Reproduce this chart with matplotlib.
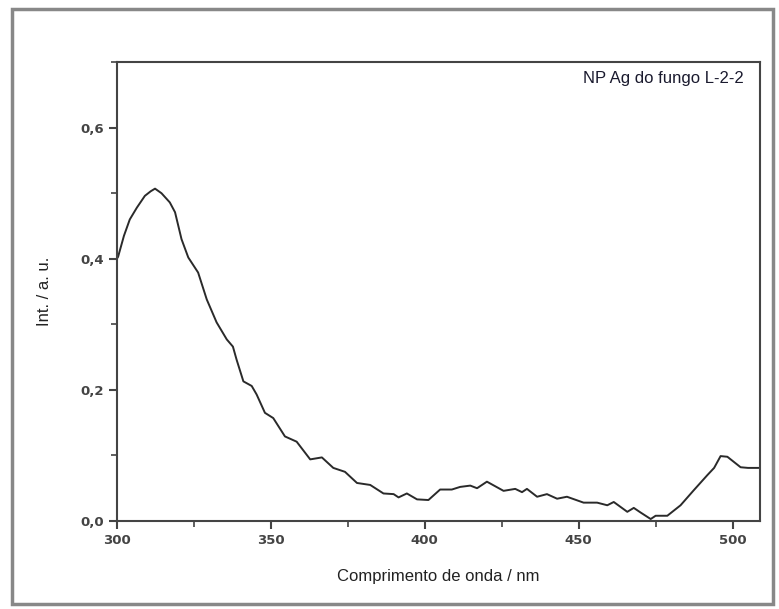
import numpy as np
import matplotlib.pyplot as plt
from matplotlib.ticker import MultipleLocator, FuncFormatter
from matplotlib.patches import Rectangle

# Wavelength (nm) and intensity
wavelength = [300.0, 300.4, 302.3, 304.2, 306.5, 309.1, 311.0, 312.4, 314.5, 317.2,
              318.9, 321.0, 323.2, 326.4, 329.2, 332.4, 335.7, 337.7, 338.9, 341.1,
              343.8, 345.4, 348.1, 350.8, 354.6, 358.4, 362.8, 366.6, 370.3, 374.1,
              378.0, 382.3, 386.6, 389.9, 391.5, 394.2, 397.5, 401.2, 405.0, 408.8,
              411.5, 414.8, 417.0, 420.2, 425.6, 429.4, 431.6, 433.2, 436.5, 439.7,
              443.0, 446.2, 451.6, 456.0, 459.3, 461.4, 465.8, 467.9, 470.1, 473.4,
              475.0, 478.8, 483.1, 487.4, 491.8, 494.0, 496.1, 498.3, 502.6, 505.0,
              509.0]
intensity = [0.400, 0.403, 0.435, 0.460, 0.478, 0.496, 0.503, 0.507, 0.500, 0.486,
             0.471, 0.430, 0.402, 0.379, 0.338, 0.303, 0.277, 0.266, 0.246, 0.213,
             0.206, 0.193, 0.165, 0.157, 0.129, 0.121, 0.094, 0.097, 0.081, 0.075,
             0.058, 0.055, 0.042, 0.041, 0.036, 0.042, 0.033, 0.032, 0.048, 0.048,
             0.052, 0.054, 0.050, 0.060, 0.046, 0.049, 0.044, 0.049, 0.037, 0.041,
             0.034, 0.037, 0.028, 0.028, 0.024, 0.029, 0.014, 0.020, 0.013, 0.003,
             0.008, 0.008, 0.024, 0.047, 0.070, 0.081, 0.099, 0.098, 0.082, 0.081,
             0.081]

sample_label = "NP Ag do fungo L-2-2"
x_label = "Comprimento de onda / nm"
y_label = "Int. / a. u."

fig = plt.figure(figsize=(7.79, 6.09), dpi=100)
ax = fig.add_axes([0.150, 0.1445, 0.826, 0.7535])

ax.plot(wavelength, intensity, color='#2a2a2a', linewidth=1.4)

ax.set_xlim(300, 509)
ax.set_ylim(0, 0.7)
ax.xaxis.set_major_locator(MultipleLocator(50))
ax.xaxis.set_minor_locator(MultipleLocator(25))
ax.yaxis.set_major_locator(MultipleLocator(0.2))
ax.yaxis.set_minor_locator(MultipleLocator(0.1))
ax.yaxis.set_major_formatter(FuncFormatter(lambda v, p: f"{v:.1f}".replace('.', ',')))

for s in ax.spines.values():
    s.set_color('#444444')
    s.set_linewidth(1.5)
ax.tick_params(which='major', direction='out', length=6, width=1.5, color='#444444',
               labelsize=9.5, labelcolor='#444444')
ax.tick_params(which='minor', direction='out', length=4, width=1.2, color='#444444')
for lab in ax.get_xticklabels() + ax.get_yticklabels():
    lab.set_fontweight('bold')

ax.set_xlabel(x_label, fontsize=12, family='Liberation Sans', color='#222222', labelpad=16)
ax.set_ylabel(y_label, fontsize=12, family='Liberation Sans', color='#222222', labelpad=20)

ax.text(0.975, 0.965, sample_label, transform=ax.transAxes, ha='right', va='center',
        fontsize=12, family='Liberation Sans', color='#1a1a2e')

# outer frame around the whole picture
fig.patches.append(Rectangle((12 / 779, 5 / 609), 761 / 779, 595 / 609,
                             transform=fig.transFigure, fill=False,
                             edgecolor='#888888', linewidth=2.5))

fig.savefig("out.png", dpi=100)
